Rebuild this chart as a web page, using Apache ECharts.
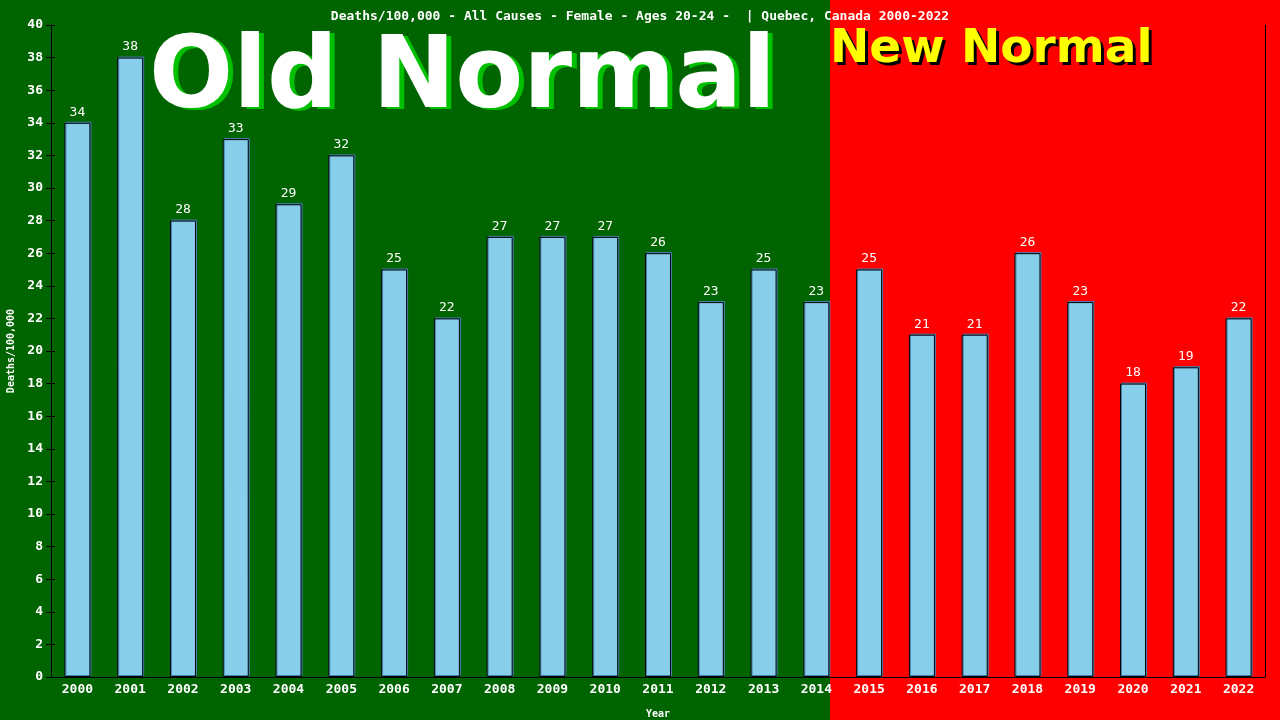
<!DOCTYPE html>
<html>
<head>
<meta charset="utf-8">
<script src="https://cdn.jsdelivr.net/npm/echarts@6/dist/echarts.min.js"></script>
<style>
    html, body { margin: 0; padding: 0; background: #006400; }
    #main { width: 1280px; height: 720px; }
</style>
</head>
<body>
<div id="main"></div>
<script>
var years = ['2000', '2001', '2002', '2003', '2004', '2005', '2006', '2007', '2008', '2009', '2010', '2011',
    '2012', '2013', '2014', '2015', '2016', '2017', '2018', '2019', '2020', '2021', '2022'];
var deaths = [34, 38, 28, 33, 29, 32, 25, 22, 27, 27, 27, 26, 23, 25, 23, 25, 21, 21, 26, 23, 18, 19, 22];
var chartTitle = 'Deaths/100,000 - All Causes - Female - Ages 20-24 -  | Quebec, Canada 2000-2022';

var mono = '"DejaVu Sans Mono", "Liberation Mono", monospace';

var myChart = echarts.init(document.getElementById('main'));
var option = {
    animation: false,
    backgroundColor: '#006400',
    title: {
        text: chartTitle,
        left: 'center',
        top: 5,
        textStyle: {
            color: '#ffffff',
            fontFamily: mono,
            fontSize: 13,
            fontWeight: 'bold'
        }
    },
    graphic: [
        // red "new normal" half
        {type: 'rect', left: 830, top: 0, z: -10, shape: {width: 450, height: 720}, style: {fill: '#ff0000'}},
        // big banner texts, shadow copy first
        {type: 'text', left: 154, top: 34, z: 1,
            style: {text: 'Old Normal', fill: '#00c000', font: 'bold 99px "DejaVu Sans", sans-serif'}},
        {type: 'text', left: 149, top: 32, z: 2,
            style: {text: 'Old Normal', fill: '#ffffff', font: 'bold 99px "DejaVu Sans", sans-serif'}},
        {type: 'text', left: 833, top: 29, z: 1,
            style: {text: 'New Normal', fill: '#000000', font: 'bold 47px "DejaVu Sans", sans-serif'}},
        {type: 'text', left: 830, top: 26, z: 2,
            style: {text: 'New Normal', fill: '#ffff00', font: 'bold 47px "DejaVu Sans", sans-serif'}}
    ],
    grid: {left: 51, right: 15, top: 25, bottom: 43, containLabel: false, outerBoundsMode: 'none'},
    xAxis: {
        type: 'category',
        data: years,
        name: 'Year',
        nameLocation: 'middle',
        nameGap: 32,
        nameTextStyle: {color: '#ffffff', fontFamily: mono, fontSize: 10, fontWeight: 'bold'},
        axisLine: {lineStyle: {color: '#000000', width: 1}},
        axisTick: {show: false},
        axisLabel: {color: '#ffffff', fontFamily: mono, fontSize: 13, fontWeight: 'bold', margin: 6}
    },
    yAxis: [
        {
            type: 'value',
            min: 0,
            max: 40,
            interval: 2,
            name: 'Deaths/100,000',
            nameLocation: 'middle',
            nameGap: 34,
            nameTextStyle: {color: '#ffffff', fontFamily: mono, fontSize: 10, fontWeight: 'bold'},
            axisLine: {show: true, lineStyle: {color: '#000000'}},
            axisTick: {show: true, length: 5, lineStyle: {color: '#000000'}},
            axisLabel: {color: '#ffffff', fontFamily: mono, fontSize: 13, fontWeight: 'bold', margin: 8},
            splitLine: {show: false}
        },
        {
            type: 'value',
            position: 'left',
            min: 0,
            max: 40,
            interval: 2,
            axisLine: {show: false},
            axisTick: {show: true, inside: true, length: 4, lineStyle: {color: '#000000'}},
            axisLabel: {show: false},
            splitLine: {show: false}
        }
    ],
    series: [
        {
            name: 'Deaths/100,000',
            type: 'bar',
            data: deaths,
            barWidth: 26,
            itemStyle: {
                color: '#87ceeb',
                borderColor: '#000000',
                borderWidth: 1,
                shadowColor: '#4682b4',
                shadowOffsetX: 1,
                shadowOffsetY: -1,
                shadowBlur: 0
            },
            label: {
                show: true,
                position: 'top',
                distance: 4,
                color: '#ffffff',
                fontFamily: mono,
                fontSize: 13
            }
        },
        {
            type: 'line',
            data: [],
            markLine: {
                silent: true,
                symbol: 'none',
                label: {show: false},
                lineStyle: {color: '#000000', type: 'solid', width: 1},
                data: [[{x: 1265, y: 25}, {x: 1265, y: 677}]]
            }
        }
    ]
};
myChart.setOption(option);
</script>
</body>
</html>
